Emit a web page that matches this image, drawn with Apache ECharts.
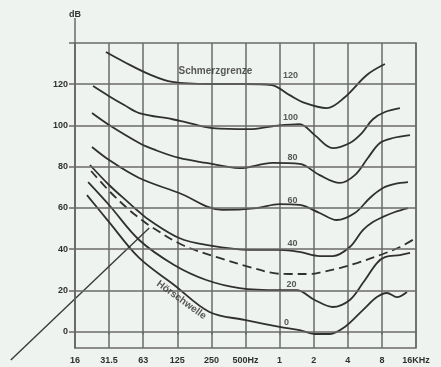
<!DOCTYPE html>
<html><head><meta charset="utf-8">
<script src="https://cdn.jsdelivr.net/npm/echarts@6/dist/echarts.min.js"></script>
<style>html,body{margin:0;padding:0;background:#eff3ef;}#c{width:441px;height:367px;}</style>
</head><body><div id="c"></div>
<script>
// x ticks: octave steps from 16 Hz to 16 kHz, and their printed labels
const freqTicks = [16,32,64,128,256,512,1024,2048,4096,8192,16384];
const freqLabels = ['16','31.5','63','125','250','500Hz','1','2','4','8','16KHz'];
const yLabelValues = [0,20,40,60,80,100,120];
const yTickValues = [0,20,40,60,80,100,120,140];
const gridDb = [0,20,40,60,80,100,120];

// curves: [frequency Hz, level dB]
const curve120 = [[30,135.6],[43.5,130.8],[72,124.9],[116,121.1],[246,120.1],[502,120.1],[870,119.6],[1256,114.7],[1704,110.9],[2669,108.4],[3853,113.7],[6033,124.5],[8710,129.8]];
const curve100 = [[23.1,119.1],[32,114.2],[43.5,109.9],[59,106.0],[116,103.0],[151,101.6],[261,98.7],[556,98.2],[888,99.6],[1539,100.6],[2090,95.3],[3018,89.0],[4267,91.5],[5450,96.3],[6817,103.0],[8710,106.5],[11824,108.4]];
const curve80 = [[22.6,106.0],[32,100.2],[59,91.5],[81.7,88.1],[133,84.2],[231,81.8],[453,79.3],[888,81.8],[1539,81.3],[2314,75.9],[3480,72.1],[4725,75.9],[6157,84.2],[7866,91.5],[10253,93.9],[14500,95.3]];
const curve60 = [[22.6,89.5],[32,83.2],[59,74.5],[133,67.2],[320,59.0],[641,59.9],[1024,61.8],[1539,61.4],[2314,57.5],[3273,54.1],[4725,57.5],[6414,64.8],[8358,69.6],[10678,71.6],[13920,72.5]];
const curve40 = [[21.7,80.8],[32,71.1],[48.1,62.3],[59,58.0],[72.3,54.1],[133,45.4],[231,42.0],[556,39.6],[1024,39.6],[1539,38.6],[2314,36.6],[3018,36.6],[4267,41.0],[5562,49.2],[6817,53.1],[8358,55.6],[10678,58.0],[13920,59.9]];
const curveDashed = [[22.2,77.9],[32.7,67.7],[48.1,59.0],[59,55.1],[73.8,51.2],[142,42.0],[301,35.7],[556,31.3],[888,28.4],[1256,27.9],[1887,27.9],[2461,28.9],[3480,30.8],[4922,33.2],[8358,37.6],[11824,41.0],[16384,45.4]];
const curve20 = [[20.9,72.5],[32,61.4],[59,44.4],[120,32.3],[231,25.0],[453,21.1],[1024,20.1],[1448,20.1],[2090,15.3],[3018,11.9],[4267,15.3],[5562,23.5],[7398,33.2],[8710,36.1],[11824,37.1],[14500,38.1]];
const curve0 = [[20.4,66.2],[32,53.1],[59,35.7],[120,22.6],[246,9.5],[502,5.6],[1024,2.2],[1539,0.7],[2090,-1.2],[2838,-1.2],[3853,2.2],[5562,10.4],[7398,16.7],[9072,18.7],[11120,16.7],[13630,19.2]];

// curve labels: [frequency, dB, text]
const curveLabels = [[1278,124,'120'],[1278,104,'100'],[1333,84.2,'80'],[1333,63.8,'60'],[1333,42.9,'40'],[1305,23,'20'],[1181,4.6,'0']];
const painLabel = [[278,126.4,'Schmerzgrenze']];
const thresholdLabel = [[139,15.3,'Hörschwelle']];
// pointer line end points [frequency, dB]
const pointerLine = [[4.34,-13.8],[72.3,50.2]];

const FONT = 'Liberation Sans';
const ink = '#303030';
const gridColor = '#6a6a6a';
const bg = '#eff3ef';

function curveSeries(name, data, dashed) {
  return {name, type:'line', data, smooth:0.35, showSymbol:false, symbol:'none', silent:true, z:3,
    lineStyle:{color:ink, width:1.8, type: dashed ? [9,5] : 'solid'}};
}
function textSeries(name, data, extra) {
  return Object.assign({name, type:'scatter', data, symbolSize:0, silent:true, z:5,
    label:{show:true, position:'inside', formatter:p=>p.value[2], color:ink, fontFamily:FONT, fontSize:9, fontWeight:'bold'}}, extra||{});
}

const chart = echarts.init(document.getElementById('c'));
chart.setOption({
  backgroundColor: bg,
  animation:false,
  grid:{left:75,right:25,top:43,bottom:19,show:true,borderColor:gridColor,borderWidth:1.5,backgroundColor:'transparent'},
  xAxis:{type:'log',logBase:2,min:16,max:16384,
    axisLine:{show:false},
    axisTick:{show:true,customValues:freqTicks,length:3,lineStyle:{color:gridColor,width:1.5}},
    splitLine:{show:true,lineStyle:{color:gridColor,width:1.5}},
    minorTick:{show:false},minorSplitLine:{show:false},
    axisLabel:{customValues:freqTicks,formatter:v=>freqLabels[freqTicks.indexOf(v)]||'',color:ink,fontSize:9,fontFamily:FONT,fontWeight:'bold',margin:8,hideOverlap:false,showMinLabel:true,showMaxLabel:true}},
  yAxis:{type:'value',min:-8,max:140,
    axisLine:{show:true,lineStyle:{color:gridColor,width:1.5}},
    axisTick:{show:true,customValues:yTickValues,length:6,lineStyle:{color:gridColor,width:1.5}},
    axisLabel:{customValues:yLabelValues,color:ink,fontSize:9,fontFamily:FONT,fontWeight:'bold',margin:7},
    splitLine:{show:false}},
  series:[
    {name:'grid',type:'line',data:[],silent:true,z:1,
      markLine:{silent:true,symbol:'none',animation:false,label:{show:false},
        lineStyle:{color:gridColor,width:1.5,type:'solid'},data:gridDb.map(v=>({yAxis:v}))}},
    curveSeries('120',curve120),
    curveSeries('100',curve100),
    curveSeries('80',curve80),
    curveSeries('60',curve60),
    curveSeries('40',curve40),
    curveSeries('dashed',curveDashed,true),
    curveSeries('20',curve20),
    curveSeries('0',curve0),
    textSeries('curveLabels',curveLabels),
    textSeries('pain',painLabel,{label:{show:true,position:'inside',formatter:p=>p.value[2],color:ink,fontFamily:FONT,fontSize:10,fontWeight:'bold'}}),
    textSeries('threshold',thresholdLabel,{label:{show:true,position:'inside',formatter:p=>p.value[2],color:ink,fontFamily:FONT,fontSize:10,fontWeight:'bold',rotate:-36}})
  ]
});

const gridTop = chart.convertToPixel({gridIndex:0},[16,140]);
const ptA = chart.convertToPixel({gridIndex:0},pointerLine[0]);
const ptB = chart.convertToPixel({gridIndex:0},pointerLine[1]);
chart.setOption({graphic:[
  {type:'line',silent:true,shape:{x1:gridTop[0],y1:gridTop[1],x2:gridTop[0],y2:gridTop[1]-25},style:{stroke:gridColor,lineWidth:1.5}},
  {type:'text',silent:true,x:gridTop[0],y:gridTop[1]-24,style:{text:'dB',fill:ink,font:'bold 9px "Liberation Sans"',align:'center',verticalAlign:'bottom'}},
  {type:'line',silent:true,shape:{x1:ptA[0],y1:ptA[1],x2:ptB[0],y2:ptB[1]},style:{stroke:'#3a3a3a',lineWidth:1.4}}
]});
</script></body></html>
